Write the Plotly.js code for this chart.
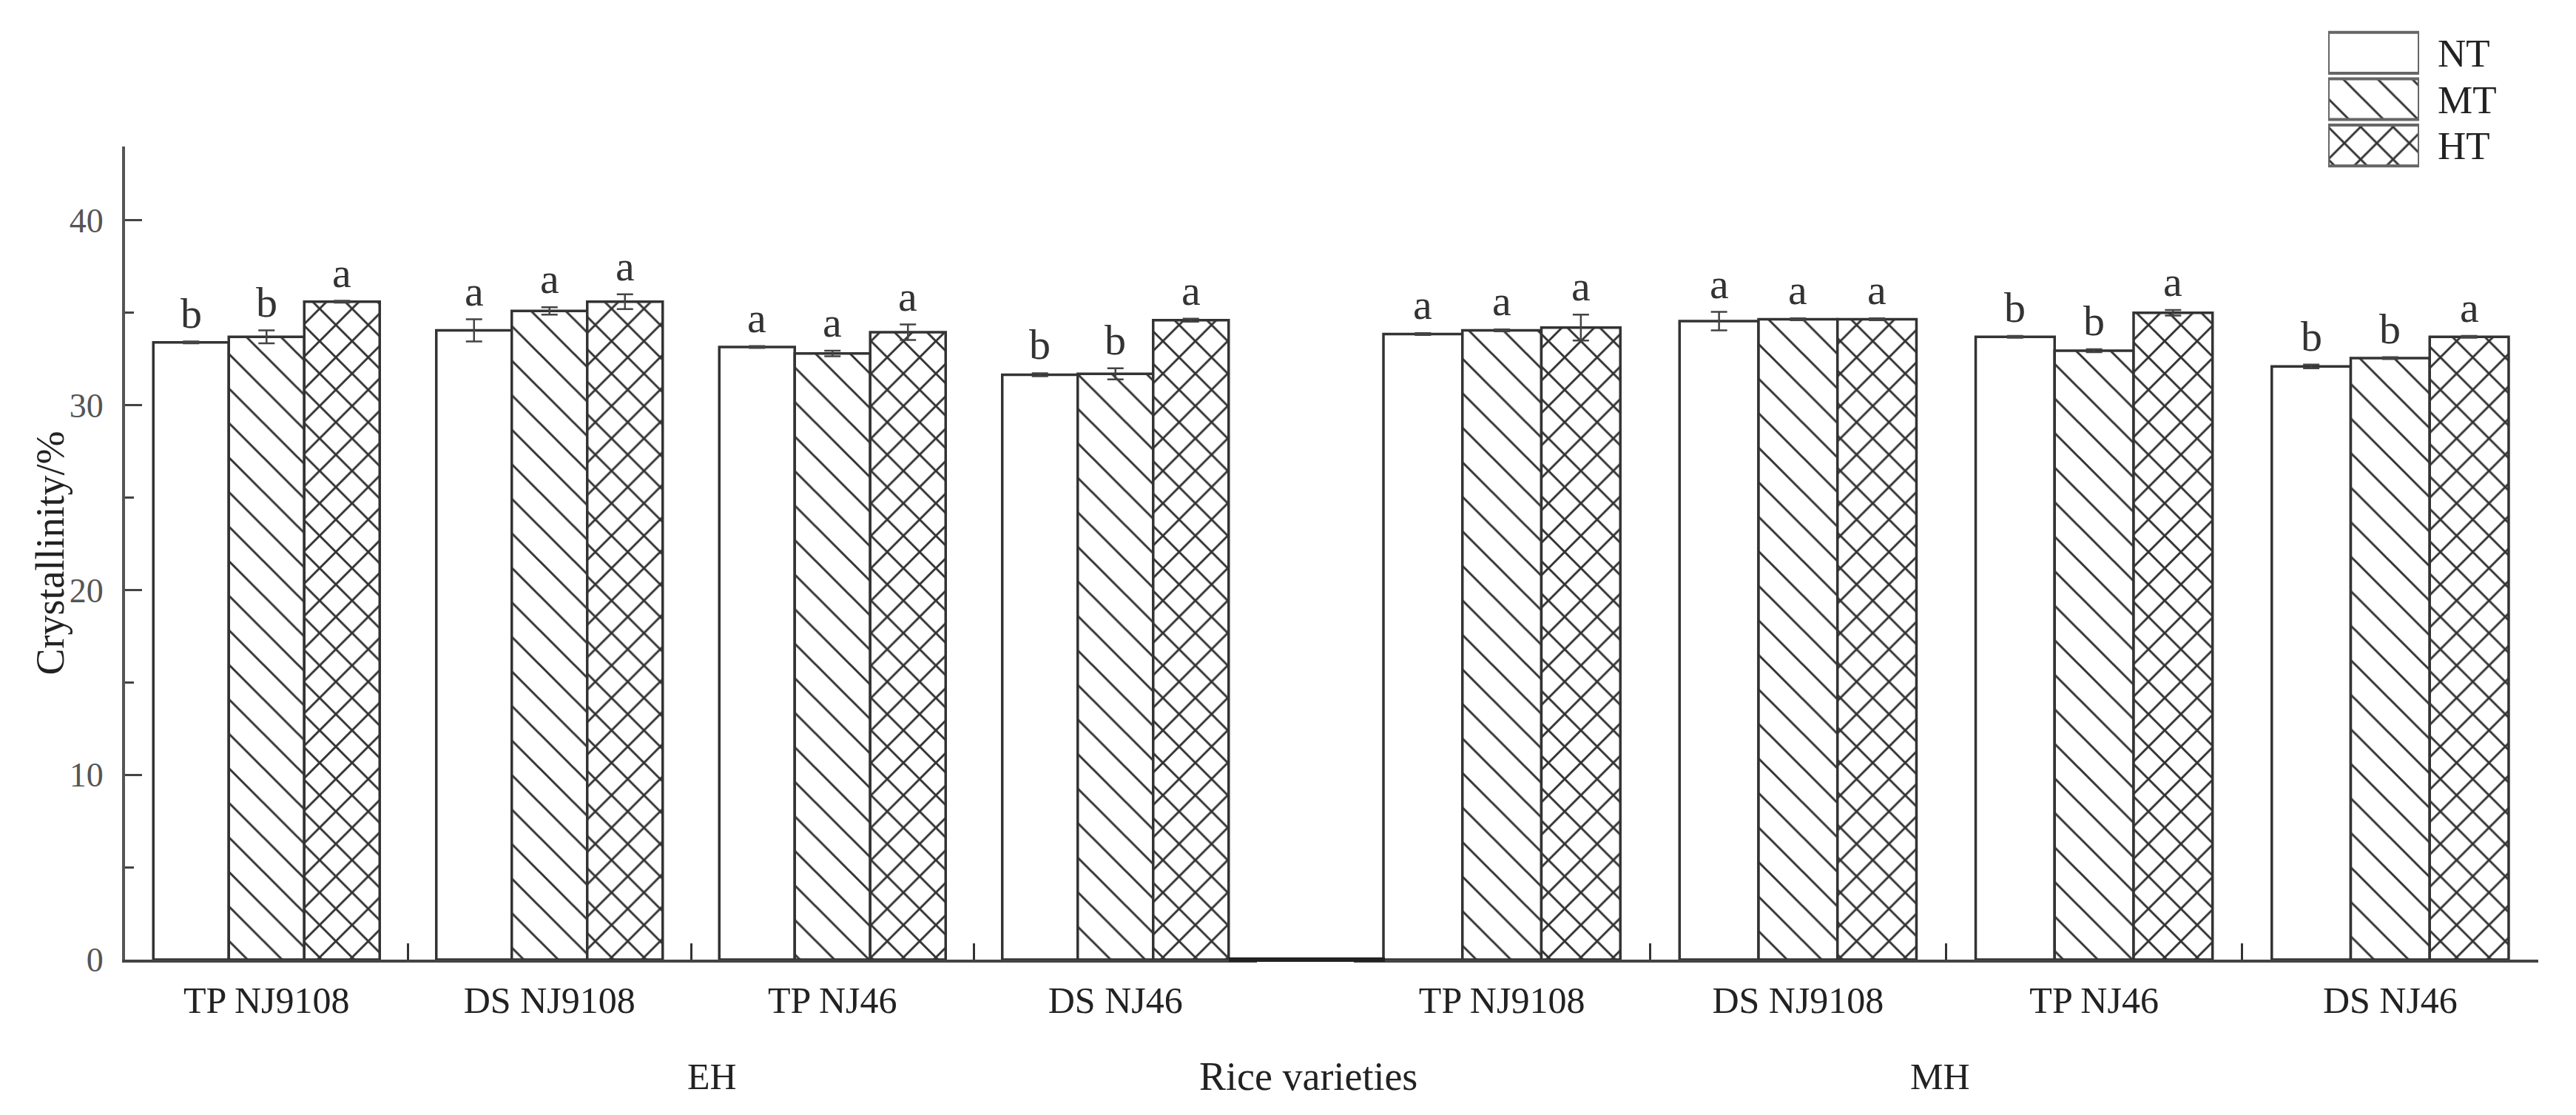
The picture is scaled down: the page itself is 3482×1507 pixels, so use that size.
<!DOCTYPE html>
<html><head><meta charset="utf-8">
<script src="https://cdn.plot.ly/plotly-3.0.1.min.js"></script>
<style>html,body{margin:0;padding:0;background:#fff;} #chart{width:3482px;height:1507px;}</style>
</head><body><div id="chart"></div>
<script>
// ---- data ----
const varieties = ['TP NJ9108', 'DS NJ9108', 'TP NJ46', 'DS NJ46'];
const treatments = ['NT', 'MT', 'HT'];
const stages = ['EH', 'MH'];
const xTitle = 'Rice varieties';
const yTitle = 'Crystallinity/%';

const EH_NT = [33.4, 34.05, 33.15, 31.65];
const EH_MT = [33.7, 35.1, 32.8, 31.7];
const EH_HT = [35.6, 35.6, 33.95, 34.6];
const MH_NT = [33.85, 34.55, 33.7, 32.1];
const MH_MT = [34.05, 34.65, 32.95, 32.55];
const MH_HT = [34.2, 34.65, 35.0, 33.7];

const EH_NT_err = [0.05, 0.6, 0.05, 0.08];
const EH_MT_err = [0.35, 0.2, 0.15, 0.3];
const EH_HT_err = [0.05, 0.4, 0.42, 0.08];
const MH_NT_err = [0.05, 0.5, 0.05, 0.1];
const MH_MT_err = [0.05, 0.05, 0.08, 0.05];
const MH_HT_err = [0.7, 0.05, 0.15, 0.05];

const EH_NT_sig = ['b', 'a', 'a', 'b'];
const EH_MT_sig = ['b', 'a', 'a', 'b'];
const EH_HT_sig = ['a', 'a', 'a', 'a'];
const MH_NT_sig = ['a', 'a', 'b', 'b'];
const MH_MT_sig = ['a', 'a', 'b', 'b'];
const MH_HT_sig = ['a', 'a', 'a', 'a'];

const series = {
  EH: {NT: [EH_NT, EH_NT_err, EH_NT_sig], MT: [EH_MT, EH_MT_err, EH_MT_sig], HT: [EH_HT, EH_HT_err, EH_HT_sig]},
  MH: {NT: [MH_NT, MH_NT_err, MH_NT_sig], MT: [MH_MT, MH_MT_err, MH_MT_sig], HT: [MH_HT, MH_HT_err, MH_HT_sig]}
};

// ---- geometry / style ----
const W = 3482, H = 1507;
const M = {l: 169, r: 51, t: 30, b: 210};
const PW = W - M.l - M.r, PH = H - M.t - M.b;
const px2x = p => (p - M.l) / PW;
const px2y = p => (H - M.b - p) / PH;

const ehDom = [0, px2x(1699)];
const mhDom = [px2x(1830), 1];
const yDom = [0, px2y(198)];
const legX = [px2x(3147), px2x(3270)];
const legY = [px2y(228), px2y(40)];
const BARGAP = 0.2;

const serif = '"Liberation Serif", "Times New Roman", Times, serif';
const patterns = {
  NT: {shape: ''},
  MT: {shape: '\\', size: 33, solidity: 0.09, fgcolor: '#333', bgcolor: 'white', fillmode: 'replace'},
  HT: {shape: 'x', size: 31, solidity: 0.18, fgcolor: '#333', bgcolor: 'white', fillmode: 'replace'}
};

const traces = [];
const annotations = [];
stages.forEach(st => {
  const xa = st === 'EH' ? 'x' : 'x2';
  const dom = st === 'EH' ? ehDom : mhDom;
  const barPx = (dom[1] - dom[0]) * PW / varieties.length * (1 - BARGAP) / treatments.length;
  treatments.forEach((t, ti) => {
    const [vals, errs, sig] = series[st][t];
    traces.push({
      type: 'bar', name: t, x: varieties, y: vals, xaxis: xa, yaxis: 'y',
      showlegend: false, offsetgroup: t,
      marker: {color: 'white', line: {color: '#333', width: 3.5}, pattern: patterns[t]},
      error_y: {type: 'data', array: errs, visible: true, color: '#444', thickness: 2.5, width: 11}
    });
    varieties.forEach((v, i) => {
      annotations.push({
        xref: xa, yref: 'y', x: v, y: vals[i] + errs[i], text: sig[i],
        xshift: (ti - 1) * barPx, yshift: 4, xanchor: 'center', yanchor: 'bottom', showarrow: false,
        font: {family: serif, size: 58, color: '#333'}
      });
    });
  });
});

// legend swatches (large patterned boxes)
treatments.forEach(t => {
  traces.push({
    type: 'bar', orientation: 'h', name: t, y: [t], x: [1], xaxis: 'x3', yaxis: 'y3',
    width: 0.88, offsetgroup: 'leg', showlegend: false, hoverinfo: 'skip',
    marker: {color: 'white', line: {color: '#666', width: 4}, pattern: patterns[t]}
  });
});

const lab = (x, y, text, size, extra) => Object.assign({
  xref: 'paper', yref: 'paper', x: x, y: y, text: text, showarrow: false,
  xanchor: 'center', yanchor: 'middle', font: {family: serif, size: size, color: '#222'}
}, extra || {});

annotations.push(
  lab(px2x(962), px2y(1455), stages[0], 50),
  lab(px2x(1768), px2y(1455), xTitle, 54),
  lab(px2x(2622), px2y(1455), stages[1], 50),
  lab(px2x(67), (yDom[0] + yDom[1]) / 2, yTitle, 54, {textangle: -90})
);

const xCommon = {
  type: 'category', anchor: 'y', range: [-0.5, 3.5], showline: true, linecolor: '#444', linewidth: 4,
  ticks: 'inside', tickson: 'boundaries', ticklen: 22, tickwidth: 3, tickcolor: '#333',
  tickfont: {family: serif, size: 50, color: '#222'}, ticklabelstandoff: 8,
  showgrid: false, zeroline: false, fixedrange: true
};

const layout = {
  width: W, height: H, margin: M,
  paper_bgcolor: 'white', plot_bgcolor: 'rgba(0,0,0,0)',
  barmode: 'group', bargap: BARGAP, bargroupgap: 0,
  showlegend: false,
  font: {family: serif, color: '#222'},
  xaxis: Object.assign({}, xCommon, {domain: ehDom}),
  xaxis2: Object.assign({}, xCommon, {domain: mhDom}),
  yaxis: {
    domain: yDom, anchor: 'x', range: [0, 44], showline: true, linecolor: '#555', linewidth: 4,
    ticks: 'inside', ticklen: 23, tickwidth: 3, tickcolor: '#444', tick0: 0, dtick: 10,
    minor: {dtick: 5, ticks: 'inside', ticklen: 12, tickwidth: 3, tickcolor: '#444', showgrid: false},
    tickfont: {family: serif, size: 46, color: '#555'}, ticklabelstandoff: 16,
    showgrid: false, zeroline: false
  },
  xaxis3: {domain: legX, anchor: 'y3', range: [0, 1], visible: false, fixedrange: true},
  yaxis3: {domain: legY, anchor: 'x3', type: 'category', categoryorder: 'array',
    categoryarray: ['HT', 'MT', 'NT'], tickmode: 'array', tickvals: treatments, ticktext: treatments,
    side: 'right', showline: false, ticks: '',
    showgrid: false, zeroline: false, tickfont: {family: serif, size: 53, color: '#222'},
    ticklabelstandoff: 24, fixedrange: true},
  shapes: [
    {type: 'line', xref: 'paper', yref: 'paper', x0: px2x(1661), x1: px2x(1872), y0: 0, y1: 0,
     line: {color: '#222', width: 6}}
  ],
  annotations: annotations
};

Plotly.newPlot('chart', traces, layout, {staticPlot: true, displayModeBar: false});
</script>
</body></html>
